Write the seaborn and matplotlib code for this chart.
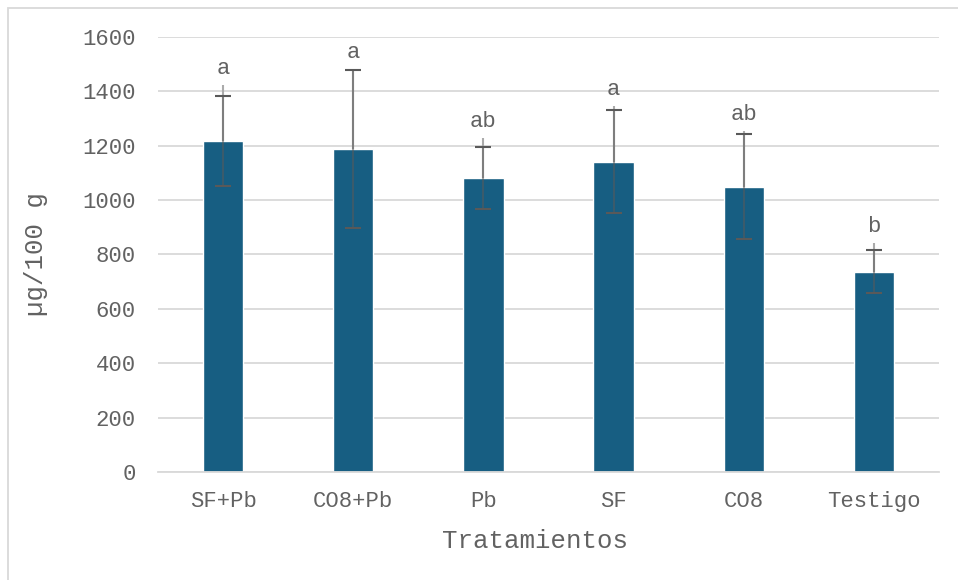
import numpy as np
import pandas as pd
import seaborn as sns
import matplotlib.pyplot as plt
from matplotlib.patches import Rectangle

# Contenido por tratamiento (µg/100 g)
tratamientos = ["SF+Pb", "CO8+Pb", "Pb", "SF", "CO8", "Testigo"]
medias = [1218, 1187, 1080, 1141, 1050, 737]
desviacion = [166, 290, 114, 190, 192, 79]
limite_superior = [1423, 1480, 1227, 1346, 1255, 843]
letras = ["a", "a", "ab", "a", "ab", "b"]
yticks = [0, 200, 400, 600, 800, 1000, 1200, 1400, 1600]

df = pd.DataFrame({"Tratamiento": tratamientos, "valor": medias})

sns.set_theme(style="white")
plt.rcParams["font.family"] = ["Liberation Mono", "DejaVu Sans"]

texto = "#626262"
barra = "#175e82"
rejilla = "#d9d9d9"

W, H = 958, 580
fig = plt.figure(figsize=(W / 100, H / 100), dpi=100)
fig.patch.set_facecolor("white")

# marco del área del gráfico
fig.add_artist(Rectangle((8 / W, -0.1), 1.2, 1.1 - 8 / H, transform=fig.transFigure,
                         fill=False, edgecolor=rejilla, linewidth=1.3))

ax = fig.add_axes([158 / W, 1 - 472 / H, (939 - 158) / W, (472 - 37) / H])
sns.barplot(data=df, x="Tratamiento", y="valor", color=barra, saturation=1,
            width=0.31, errorbar=None, ax=ax, zorder=2)

x = np.arange(len(tratamientos))
ax.vlines(x, medias, limite_superior, color="#ababab", linewidth=1.5, zorder=3)
eb = ax.errorbar(x, medias, yerr=desviacion, fmt="none", ecolor=(0.35, 0.35, 0.35, 0.55),
                 elinewidth=1.5, capsize=6, capthick=1.5, zorder=4)
for cap in eb[1]:
    cap.set_color("#595959")
    cap.set_alpha(1)

for xi, top, letra in zip(x, limite_superior, letras):
    ax.annotate(letra, (xi, top), xytext=(0, 12), textcoords="offset points",
                ha="center", va="center", fontsize=16, color=texto)

ax.set_xlim(-0.5, len(tratamientos) - 0.5)
ax.set_ylim(0, 1600)
ax.set_yticks(yticks)
ax.set_yticklabels([str(v) for v in yticks])
ax.yaxis.grid(True, color=rejilla, linewidth=1.3)
ax.set_axisbelow(True)
for s in ["top", "right", "left"]:
    ax.spines[s].set_visible(False)
ax.spines["bottom"].set_color(rejilla)
ax.spines["bottom"].set_linewidth(1.3)
ax.tick_params(axis="both", length=0, labelsize=16, labelcolor=texto)
ax.tick_params(axis="y", pad=16)
ax.tick_params(axis="x", pad=14)

ax.set_xlabel("Tratamientos", fontsize=18.5, color=texto)
ax.set_ylabel("µg/100 g", fontsize=18.5, color=texto)
ax.xaxis.set_label_coords((535 - 158) / (939 - 158), -(541 - 472) / (472 - 37))
ax.yaxis.set_label_coords(-(158 - 36) / (939 - 158), 0.5)
ax.xaxis.label.set_va("center")
ax.yaxis.label.set_va("center")

fig.savefig("out.png", dpi=100, facecolor="white")
